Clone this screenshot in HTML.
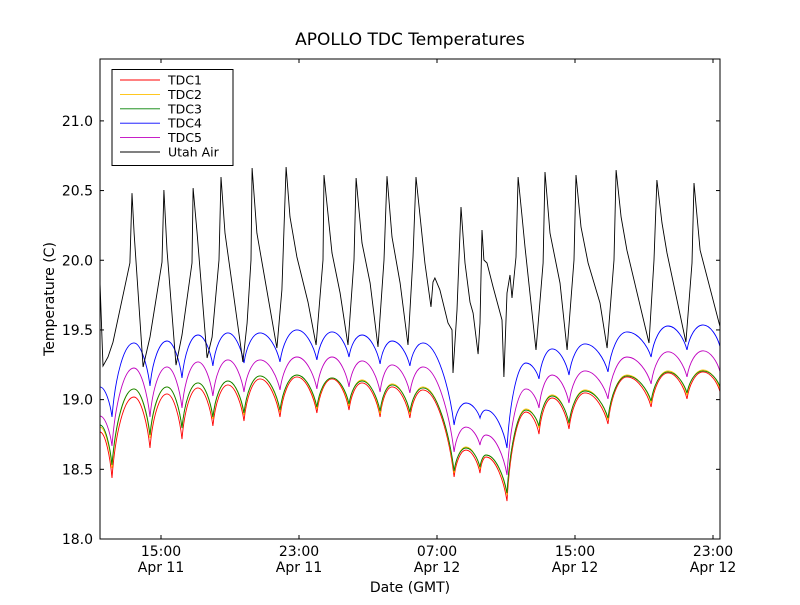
<!DOCTYPE html>
<html><head><meta charset="utf-8"><style>
body{margin:0;background:#fff;font-family:"Liberation Sans","DejaVu Sans",sans-serif}
svg text{font-family:"DejaVu Sans","Liberation Sans",sans-serif}
</style></head><body>
<svg id="chart" width="800" height="600" viewBox="0 0 800 600" xmlns="http://www.w3.org/2000/svg">
<rect width="800" height="600" fill="#fff"/>
<text x="410" y="45" font-size="17" text-anchor="middle">APOLLO TDC Temperatures</text>
<g id="series"></g>
<rect x="100" y="59" width="620" height="480" fill="none" stroke="#000" stroke-width="1"/>
<g id="axes"></g>
<text x="410" y="592" font-size="14" text-anchor="middle">Date (GMT)</text>
<text transform="translate(54,299) rotate(-90)" font-size="14" text-anchor="middle">Temperature (C)</text>
<g>
<rect x="112" y="69.5" width="121" height="96" fill="#fff" stroke="#000"/>
<g id="legend-items"></g>
</g>
</svg>
<script>
// hours since Apr 11 00:00 GMT
const tdcTimes=[11.46,12.16,13.43,14.36,15.35,16.22,17.14,18.01,18.88,19.81,20.74,21.90,22.88,24.04,24.91,25.90,26.65,27.70,28.39,29.43,30.19,31.99,32.68,33.49,33.84,35.06,36.16,36.91,37.67,38.65,39.58,40.91,42.01,43.41,44.39,45.49,46.42,47.41];
const tdc1=[18.768,18.438,19.019,18.653,19.041,18.717,19.084,18.811,19.106,18.847,19.149,18.875,19.163,18.904,19.149,18.925,19.120,18.875,19.091,18.868,19.070,18.445,18.638,18.473,18.588,18.272,18.911,18.753,19.012,18.789,19.048,18.825,19.163,18.947,19.192,19.005,19.199,19.055];
const tdc2=[18.803,18.509,19.077,18.725,19.091,18.796,19.120,18.861,19.134,18.890,19.170,18.911,19.177,18.933,19.156,18.954,19.141,18.897,19.113,18.897,19.091,18.473,18.660,18.502,18.603,18.315,18.933,18.796,19.034,18.825,19.070,18.854,19.177,18.976,19.206,19.034,19.213,19.077];
const tdc3=[18.818,18.531,19.077,18.746,19.091,18.796,19.120,18.875,19.134,18.904,19.170,18.925,19.177,18.947,19.156,18.969,19.134,18.918,19.106,18.911,19.084,18.488,18.653,18.516,18.603,18.330,18.925,18.811,19.026,18.832,19.062,18.868,19.170,18.990,19.199,19.048,19.206,19.091];
const tdc4=[19.091,18.875,19.407,19.098,19.421,19.156,19.464,19.242,19.479,19.263,19.479,19.271,19.500,19.285,19.486,19.306,19.464,19.256,19.421,19.242,19.407,18.818,18.976,18.868,18.925,18.653,19.263,19.149,19.364,19.177,19.400,19.199,19.486,19.306,19.528,19.357,19.536,19.378];
const tdc5=[18.882,18.667,19.227,18.875,19.235,18.940,19.271,19.026,19.285,19.055,19.285,19.070,19.306,19.077,19.306,19.091,19.278,19.055,19.249,19.048,19.235,18.624,18.803,18.674,18.746,18.459,19.077,18.940,19.177,18.976,19.206,19.005,19.306,19.113,19.343,19.163,19.350,19.199];
const airTimes=[11.46,11.64,11.93,12.22,13.20,13.32,13.44,13.96,14.36,15.06,15.17,15.35,15.87,16.22,16.80,16.86,17.09,17.67,17.96,18.36,18.48,18.71,19.75,19.99,20.22,20.28,20.56,20.86,21.72,22.01,22.25,22.48,22.88,23.52,23.99,24.39,24.45,24.91,25.38,25.84,26.19,26.31,26.65,27.12,27.58,27.93,28.10,28.39,28.86,29.32,29.61,29.78,30.30,30.65,30.77,30.88,31.17,31.64,31.87,31.93,32.16,32.39,32.62,32.91,33.09,33.38,33.49,33.61,33.72,33.90,34.25,34.77,34.88,35.06,35.23,35.35,35.58,35.70,35.93,36.10,36.74,37.15,37.26,37.55,38.13,38.54,38.94,39.06,39.35,39.76,40.45,40.86,41.26,41.38,41.67,42.01,43.29,43.58,43.75,44.04,44.33,45.43,45.78,45.90,46.25,47.41];
const airVals=[19.858,19.241,19.306,19.413,19.980,20.482,20.195,19.234,19.449,19.987,20.504,20.073,19.248,19.464,19.980,20.518,20.195,19.299,19.449,20.002,20.597,20.195,19.270,19.550,20.002,20.662,20.195,19.980,19.370,19.787,20.669,20.310,20.023,19.700,19.392,20.002,20.612,20.052,19.765,19.392,20.002,20.590,20.124,19.837,19.378,20.002,20.604,20.167,19.837,19.392,20.023,20.597,19.980,19.665,19.844,19.873,19.787,19.550,19.500,19.191,19.643,20.382,19.980,19.700,19.621,19.327,19.550,20.217,20.002,19.980,19.808,19.571,19.162,19.765,19.894,19.729,20.023,20.597,20.310,20.095,19.356,19.980,20.633,20.195,19.837,19.356,20.002,20.612,20.239,19.980,19.693,19.370,20.002,20.647,20.310,20.073,19.406,20.002,20.576,20.267,20.052,19.413,19.980,20.554,20.073,19.521];
const yTicks=[18.0,18.5,19.0,19.5,20.0,20.5,21.0];
const xTicks=[15,23,31,39,47];
const xTickTimes=["15:00","23:00","07:00","15:00","23:00"];
const xTickDates=["Apr 11","Apr 11","Apr 12","Apr 12","Apr 12"];
const seriesNames=["TDC1","TDC2","TDC3","TDC4","TDC5","Utah Air"];
const seriesColors=["#ff0000","#ffbf00","#008000","#0000ff","#bf00bf","#000000"];

const X0=100,X1=720,Y0=539,Y1=59,TMIN=11.464,TMAX=47.405,VMIN=18,VMAX=21.444;
const sx=t=>X0+(t-TMIN)/(TMAX-TMIN)*(X1-X0);
const sy=v=>Y0-(v-VMIN)/(VMAX-VMIN)*(Y0-Y1);
const NS="http://www.w3.org/2000/svg";
const mk=(tag,parent)=>{const e=document.createElementNS(NS,tag);parent.appendChild(e);return e;};
const series=document.getElementById('series');
const axes=document.getElementById('axes');

function scallop(ts,vs){
  let d=`M${sx(ts[0]).toFixed(1)},${sy(vs[0]).toFixed(1)}`;
  for(let i=1;i<ts.length;i++){
    const x0=sx(ts[i-1]),y0=sy(vs[i-1]),x1=sx(ts[i]),y1=sy(vs[i]),dx=x1-x0;
    if(y1<y0){ // rising to hump
      d+=` C${(x0+0.15*dx).toFixed(1)},${(y1+(y0-y1)*0.45).toFixed(1)} ${(x1-0.45*dx).toFixed(1)},${y1.toFixed(1)} ${x1.toFixed(1)},${y1.toFixed(1)}`;
    } else { // falling to trough
      d+=` C${(x0+0.45*dx).toFixed(1)},${y0.toFixed(1)} ${(x1-0.15*dx).toFixed(1)},${(y1-(y1-y0)*0.45).toFixed(1)} ${x1.toFixed(1)},${y1.toFixed(1)}`;
    }
  }
  return d;
}
const clip=mk('clipPath',series);clip.setAttribute('id','pc');
const cr=mk('rect',clip);cr.setAttribute('x',X0);cr.setAttribute('y',Y1);cr.setAttribute('width',X1-X0);cr.setAttribute('height',Y0-Y1);
const tdcData=[tdc1,tdc2,tdc3,tdc4,tdc5];
const drawOrder=[3,4,0,1,2];
drawOrder.forEach(i=>{
  const p=mk('path',series);
  
  
  p.setAttribute('d',scallop(tdcTimes,tdcData[i]));
  p.setAttribute('fill','none');p.setAttribute('stroke',seriesColors[i]);p.setAttribute('stroke-width','0.9');
  p.setAttribute('clip-path','url(#pc)');
});
{
  const p=mk('path',series);
  
  
  p.setAttribute('d','M'+airTimes.map((t,i)=>sx(t).toFixed(1)+','+sy(airVals[i]).toFixed(1)).join(' L'));
  p.setAttribute('fill','none');p.setAttribute('stroke','#000');p.setAttribute('stroke-width','0.9');
  p.setAttribute('clip-path','url(#pc)');
}
yTicks.forEach(v=>{
  const y=sy(v);
  [[X0,X0+4],[X1,X1-4]].forEach(([a,b])=>{const l=mk('line',axes);
    
    
    l.setAttribute('x1',a);l.setAttribute('x2',b);l.setAttribute('y1',y);l.setAttribute('y2',y);l.setAttribute('stroke','#000');});
  const t=mk('text',axes);
  
  
  t.setAttribute('x',93);t.setAttribute('y',y+5);t.setAttribute('font-size','14');t.setAttribute('text-anchor','end');t.textContent=v.toFixed(1);
});
xTicks.forEach((tv,i)=>{
  const x=sx(tv);
  [[Y0,Y0-4],[Y1,Y1+4]].forEach(([a,b])=>{const l=mk('line',axes);
    
    
    l.setAttribute('x1',x);l.setAttribute('x2',x);l.setAttribute('y1',a);l.setAttribute('y2',b);l.setAttribute('stroke','#000');});
  const t1=mk('text',axes);
  
  
  t1.setAttribute('x',x);t1.setAttribute('y',556);t1.setAttribute('font-size','14');t1.setAttribute('text-anchor','middle');t1.textContent=xTickTimes[i];
  const t2=mk('text',axes);
  
  
  t2.setAttribute('x',x);t2.setAttribute('y',572);t2.setAttribute('font-size','14');t2.setAttribute('text-anchor','middle');t2.textContent=xTickDates[i];
});
const li=document.getElementById('legend-items');
seriesNames.forEach((n,i)=>{
  const y=80+i*14.4;
  const l=mk('line',li);
  
  
  l.setAttribute('x1',120);l.setAttribute('x2',160);l.setAttribute('y1',y);l.setAttribute('y2',y);l.setAttribute('stroke',seriesColors[i]);l.setAttribute('stroke-width','0.9');
  const t=mk('text',li);
  
  
  t.setAttribute('x',168);t.setAttribute('y',y+4.5);t.setAttribute('font-size','12.5');t.textContent=n;
});
</script>
</body></html>
